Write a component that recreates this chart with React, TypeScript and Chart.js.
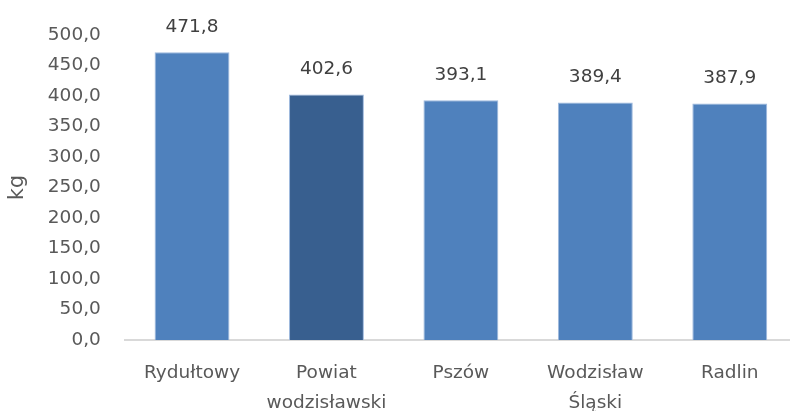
import React, { useEffect, useRef } from "react";
import { Chart, registerables } from "chart.js";

Chart.register(...registerables);

const categories: (string | string[])[] = [
  "Rydułtowy",
  ["Powiat", "wodzisławski"],
  "Pszów",
  ["Wodzisław", "Śląski"],
  "Radlin",
];
const values: number[] = [471.8, 402.6, 393.1, 389.4, 387.9];
const barColors: string[] = ["#4f81bd", "#385f8f", "#4f81bd", "#4f81bd", "#4f81bd"];
const yAxisTitle = "kg";
const yMin = 0;
const yMax = 500;
const yStep = 50;

const FONT = "'DejaVu Sans', sans-serif";
const fmt = (v: number) => v.toFixed(1).replace(".", ",");

const valueLabels = {
  id: "valueLabels",
  afterDatasetsDraw(chart: any) {
    const ctx = chart.ctx;
    const meta = chart.getDatasetMeta(0);
    ctx.save();
    ctx.font = `18.5px ${FONT}`;
    ctx.fillStyle = "#404040";
    ctx.textAlign = "center";
    ctx.textBaseline = "middle";
    meta.data.forEach((bar: any, i: number) => {
      ctx.fillText(fmt(values[i]), bar.x, bar.y - 25);
    });
    ctx.restore();
  },
};

export default function App() {
  const ref = useRef<HTMLCanvasElement | null>(null);
  useEffect(() => {
    if (!ref.current) return;
    const chart = new Chart(ref.current, {
      type: "bar",
      data: {
        labels: categories,
        datasets: [
          {
            data: values,
            backgroundColor: barColors,
            borderColor: "#9db8dd",
            borderWidth: { top: 1, left: 1, right: 1, bottom: 0 },
            borderSkipped: "bottom",
            barPercentage: 1,
            categoryPercentage: 0.557,
          },
        ],
      },
      options: {
        animation: false,
        responsive: false,
        devicePixelRatio: 1,
        layout: { padding: { top: 32, left: 0, right: 0, bottom: 0 } },
        plugins: {
          legend: { display: false },
          tooltip: { enabled: false },
        },
        scales: {
          x: {
            grid: { display: false, drawTicks: false },
            border: { display: true, color: "#d9d9d9", width: 2 },
            ticks: {
              color: "#595959",
              font: { family: FONT, size: 18.5, lineHeight: 30 / 18.5 },
              padding: 18,
              maxRotation: 0,
              autoSkip: false,
            },
            afterFit: (s: any) => {
              s.height = 71;
            },
          },
          y: {
            min: yMin,
            max: yMax,
            grid: { display: false, drawTicks: false },
            border: { display: false },
            ticks: {
              stepSize: yStep,
              color: "#595959",
              font: { family: FONT, size: 18.5 },
              padding: 24,
              callback: (v: any) => fmt(Number(v)),
            },
            title: {
              display: true,
              text: yAxisTitle,
              color: "#595959",
              font: { family: FONT, size: 20.5 },
              padding: { top: 5, bottom: 0 },
            },
            afterFit: (s: any) => {
              s.width = 124.8;
            },
          },
        },
      },
      plugins: [valueLabels],
    });
    return () => chart.destroy();
  }, []);
  return (
    <div
      style={{
        position: "fixed",
        left: 0,
        top: 0,
        width: 790,
        height: 411,
        overflow: "hidden",
        background: "#ffffff",
      }}
    >
      <canvas ref={ref} width={797} height={411} style={{ display: "block" }} />
    </div>
  );
}
